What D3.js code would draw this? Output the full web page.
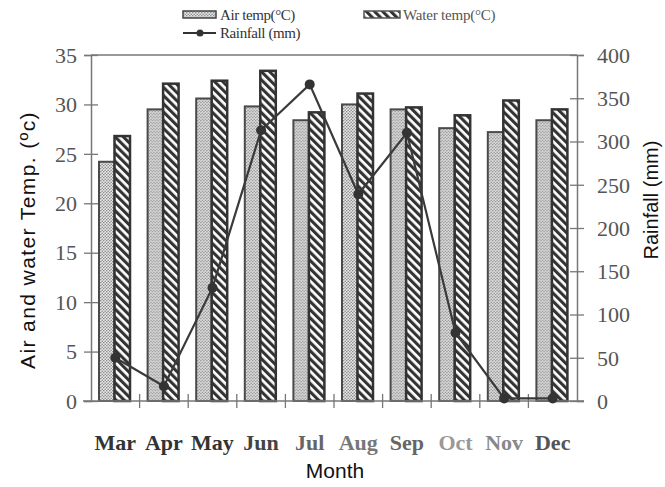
<!DOCTYPE html>
<html>
<head>
<meta charset="utf-8">
<script src="https://cdn.jsdelivr.net/npm/d3@7"></script>
<style>
  html, body { margin: 0; padding: 0; background: #fff; }
  svg { display: block; }
  svg text.tk { font-family: 'Liberation Serif', 'Times New Roman', serif !important; font-size: 22px !important; }
</style>
</head>
<body>
<script>
// ---- data ----
const months = ["Mar","Apr","May","Jun","Jul","Aug","Sep","Oct","Nov","Dec"];
const airTemp = [24.2, 29.5, 30.6, 29.8, 28.4, 30.0, 29.5, 27.6, 27.2, 28.4];
const waterTemp = [26.8, 32.1, 32.4, 33.4, 29.2, 31.1, 29.7, 28.9, 30.4, 29.5];
const rainfall = [50, 17, 131, 313, 366, 239, 310, 79, 3, 3];
const tempTicks = [0, 5, 10, 15, 20, 25, 30, 35];
const rainTicks = [0, 50, 100, 150, 200, 250, 300, 350, 400];

// scanned label shading (style only)
const monthLabelGray = ["#333","#333","#333","#444","#666","#777","#666","#999","#888","#555"];

const W = 665, H = 487;
const serif = "'Liberation Serif', 'Times New Roman', serif";
const sans = "'Liberation Sans', Arial, sans-serif";
const svg = d3.select("body").append("svg").attr("width", W).attr("height", H);

const pLeft = 91, pRight = 577, pTop = 55, pBottom = 401;

const x = d3.scaleBand().domain(months).range([pLeft, pRight]).padding(0);
const sub = d3.scaleBand().domain(["air","water"]).range([8, 39]).padding(0);
const yT = d3.scaleLinear().domain([0, 35]).range([pBottom, pTop]);
const yR = d3.scaleLinear().domain([0, 400]).range([pBottom, pTop]);

// ---- patterns ----
const defs = svg.append("defs");
const dots = defs.append("pattern").attr("id","dots").attr("patternUnits","userSpaceOnUse")
  .attr("width", 3).attr("height", 3);
dots.append("rect").attr("width",3).attr("height",3).attr("fill","#e6e6e6");
dots.append("circle").attr("cx",0.75).attr("cy",0.75).attr("r",0.8).attr("fill","#8a8a8a");
dots.append("circle").attr("cx",2.25).attr("cy",2.25).attr("r",0.8).attr("fill","#8a8a8a");

const stripes = defs.append("pattern").attr("id","stripes").attr("patternUnits","userSpaceOnUse")
  .attr("width", 5.8).attr("height", 10).attr("patternTransform","rotate(-45)");
stripes.append("rect").attr("width",5.8).attr("height",10).attr("fill","#fff");
stripes.append("rect").attr("width",3.1).attr("height",10).attr("fill","#333");

// ---- frame / axes ----
const axisColor = "#777";
svg.append("line").attr("x1", pLeft).attr("x2", pRight).attr("y1", pTop).attr("y2", pTop)
  .attr("stroke", axisColor).attr("stroke-width", 1.5);

// left axis
const gL = svg.append("g").attr("transform", `translate(${pLeft},0)`)
  .call(d3.axisLeft(yT).tickValues(tempTicks).tickSize(7).tickFormat(d3.format("d")));
gL.attr("font-family", serif).attr("font-size", 22);
gL.select(".domain").attr("stroke", axisColor).attr("stroke-width", 1.5);
gL.selectAll(".tick line").attr("x2", 7).attr("x1", -7).attr("stroke", axisColor).attr("stroke-width", 1.3);
gL.selectAll(".tick text").classed("tk", true).attr("fill", "#555").attr("x", -14).attr("dy","0.33em");

// right axis
const gR = svg.append("g").attr("transform", `translate(${pRight},0)`)
  .call(d3.axisRight(yR).tickValues(rainTicks).tickSize(7).tickFormat(d3.format("d")));
gR.attr("font-family", serif).attr("font-size", 22);
gR.select(".domain").attr("stroke", axisColor).attr("stroke-width", 1.5);
gR.selectAll(".tick line").attr("x2", 7).attr("x1", -7).attr("stroke", axisColor).attr("stroke-width", 1.3);
gR.selectAll(".tick text").classed("tk", true).attr("fill", "#555").attr("x", 20).attr("dy","0.33em");

// ---- bars ----
const groups = svg.append("g").selectAll("g").data(months).join("g")
  .attr("transform", d => `translate(${x(d)},0)`);
groups.append("rect")
  .attr("x", sub("air")).attr("width", sub.bandwidth())
  .attr("y", (d,i) => yT(airTemp[i])).attr("height", (d,i) => pBottom - yT(airTemp[i]))
  .attr("fill", "url(#dots)").attr("stroke", "#4a4a4a").attr("stroke-width", 2);
groups.append("rect")
  .attr("x", sub("water")).attr("width", sub.bandwidth())
  .attr("y", (d,i) => yT(waterTemp[i])).attr("height", (d,i) => pBottom - yT(waterTemp[i]))
  .attr("fill", "url(#stripes)").attr("stroke", "#333").attr("stroke-width", 2.5);

// bottom axis
svg.append("line").attr("x1", pLeft - 8).attr("x2", pRight + 7).attr("y1", pBottom).attr("y2", pBottom)
  .attr("stroke", axisColor).attr("stroke-width", 1.5);
svg.append("g").selectAll("line").data(months.slice(1)).join("line")
  .attr("x1", d => x(d)).attr("x2", d => x(d)).attr("y1", pBottom - 7).attr("y2", pBottom + 7)
  .attr("stroke", axisColor).attr("stroke-width", 1.3);
svg.append("g").attr("font-family", serif).selectAll("text").data(months).join("text")
  .attr("x", d => x(d) + x.bandwidth() / 2).attr("y", 450)
  .attr("text-anchor", "middle")
  .attr("font-weight","bold").attr("font-size", 22)
  .attr("fill", (d,i) => monthLabelGray[i])
  .text(d => d);

// ---- rainfall line ----
const line = d3.line().x((d,i) => x(months[i]) + x.bandwidth()/2).y(d => yR(d));
svg.append("path").datum(rainfall).attr("d", line)
  .attr("fill","none").attr("stroke","#3a3a3a").attr("stroke-width", 2.2);
svg.append("g").selectAll("circle").data(rainfall).join("circle")
  .attr("cx", (d,i) => x(months[i]) + x.bandwidth()/2).attr("cy", d => yR(d))
  .attr("r", 5).attr("fill", "#333");

// ---- titles ----
svg.append("text").attr("transform", "translate(35,240) rotate(-90)")
  .attr("text-anchor","middle").attr("font-family", sans)
  .attr("font-size", 21).attr("letter-spacing", 1.4).attr("fill","#111")
  .text("Air and water Temp. (ºc)");
svg.append("text").attr("transform", "translate(658,200) rotate(-90)")
  .attr("text-anchor","middle").attr("font-family", sans)
  .attr("font-size", 20).attr("fill","#111")
  .text("Rainfall (mm)");
svg.append("text").attr("x", 335).attr("y", 478)
  .attr("text-anchor","middle").attr("font-family", sans)
  .attr("font-size", 21).attr("fill","#111")
  .text("Month");

// ---- legend ----
svg.append("rect").attr("x",183).attr("y",11).attr("width",33).attr("height",7)
  .attr("fill","url(#dots)").attr("stroke","#444").attr("stroke-width",1.5);
svg.append("text").attr("x",220).attr("y",20).attr("font-family",serif).attr("font-size",15)
  .attr("fill","#333").attr("letter-spacing",-0.4).text("Air temp(°C)");
svg.append("rect").attr("x",364).attr("y",11).attr("width",36).attr("height",7)
  .attr("fill","url(#stripes)").attr("stroke","#555").attr("stroke-width",1.5);
svg.append("text").attr("x",403).attr("y",20).attr("font-family",serif).attr("font-size",15)
  .attr("fill","#555").attr("letter-spacing",-0.2).text("Water temp(°C)");
svg.append("line").attr("x1",183).attr("x2",216).attr("y1",33).attr("y2",33)
  .attr("stroke","#333").attr("stroke-width",1.8);
svg.append("circle").attr("cx",200).attr("cy",33).attr("r",3.5).attr("fill","#333");
svg.append("text").attr("x",220).attr("y",38).attr("font-family",serif).attr("font-size",15)
  .attr("fill","#333").attr("letter-spacing",-0.4).text("Rainfall (mm)");
</script>
</body>
</html>
